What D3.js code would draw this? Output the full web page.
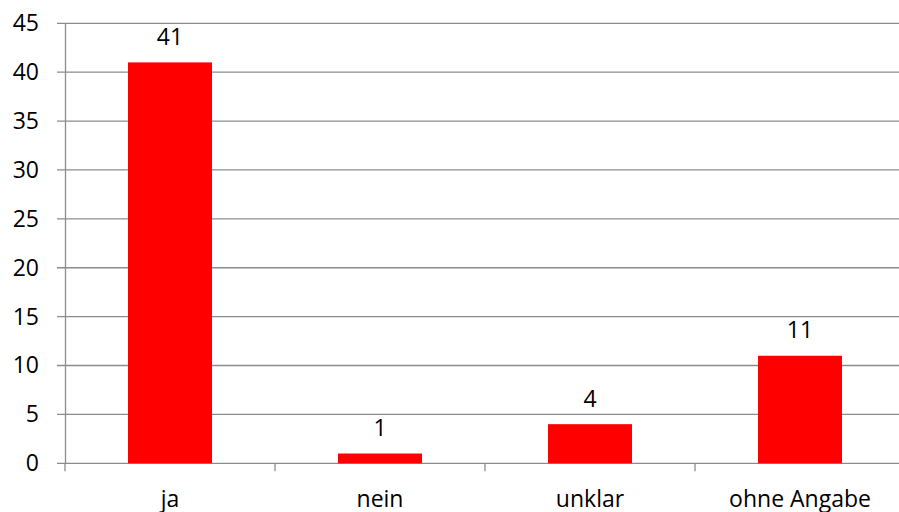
<!DOCTYPE html>
<html><head><meta charset="utf-8">
<script src="https://cdn.jsdelivr.net/npm/d3@7"></script>
<style>body{margin:0;background:#fff}svg{display:block}text{font-family:"Open Sans",sans-serif;fill:#000}</style>
</head><body>
<script>
const categories = ["ja", "nein", "unklar", "ohne Angabe"];
const values = [41, 1, 4, 11];
const yTicks = [0, 5, 10, 15, 20, 25, 30, 35, 40, 45];

const W = 899, H = 512;
const mLeft = 65, mRight = 905, mTop = 23.3, mBottom = 463.3;
const FS = "23px";
const svg = d3.select("body").append("svg").attr("width", W).attr("height", H);

const x = d3.scaleBand().domain(categories).range([mLeft, mRight]).paddingInner(0.6).paddingOuter(0.3);
const y = d3.scaleLinear().domain([0, 45]).range([mBottom, mTop]);

// gridlines
svg.append("g").selectAll("line").data(yTicks).join("line")
  .attr("x1", mLeft - 8).attr("x2", W).attr("y1", d => y(d)).attr("y2", d => y(d))
  .attr("stroke", "#8c8c8c").attr("stroke-width", 1.3);

// y axis
const ya = svg.append("g").attr("transform", `translate(${mLeft},0)`)
  .call(d3.axisLeft(y).tickValues(yTicks).tickSize(0).tickPadding(26));
ya.select(".domain").attr("stroke", "#8c8c8c").attr("stroke-width", 1.3);
ya.selectAll("text").style("font-size", FS).style("font-family", '"Open Sans",sans-serif').attr("fill", "#000");

// x axis tick marks at category boundaries
const bounds = d3.range(categories.length + 1).map(i => mLeft + i * (mRight - mLeft) / categories.length);
svg.append("g").selectAll("line").data(bounds).join("line")
  .attr("x1", d => d).attr("x2", d => d).attr("y1", mBottom).attr("y2", mBottom + 8)
  .attr("stroke", "#8c8c8c").attr("stroke-width", 1.3);

// bars
svg.append("g").selectAll("rect").data(values).join("rect")
  .attr("x", (d, i) => x(categories[i])).attr("width", x.bandwidth())
  .attr("y", d => y(d)).attr("height", d => mBottom - y(d)).attr("fill", "#ff0000");

// data labels
svg.append("g").selectAll("text").data(values).join("text")
  .attr("x", (d, i) => x(categories[i]) + x.bandwidth() / 2).attr("y", d => y(d) - 17.5)
  .attr("text-anchor", "middle").style("font-size", FS).text(d => d);

// category labels
svg.append("g").selectAll("text").data(categories).join("text")
  .attr("x", d => x(d) + x.bandwidth() / 2).attr("y", 506.5)
  .attr("text-anchor", "middle").style("font-size", FS).text(d => d);
</script>
</body></html>
